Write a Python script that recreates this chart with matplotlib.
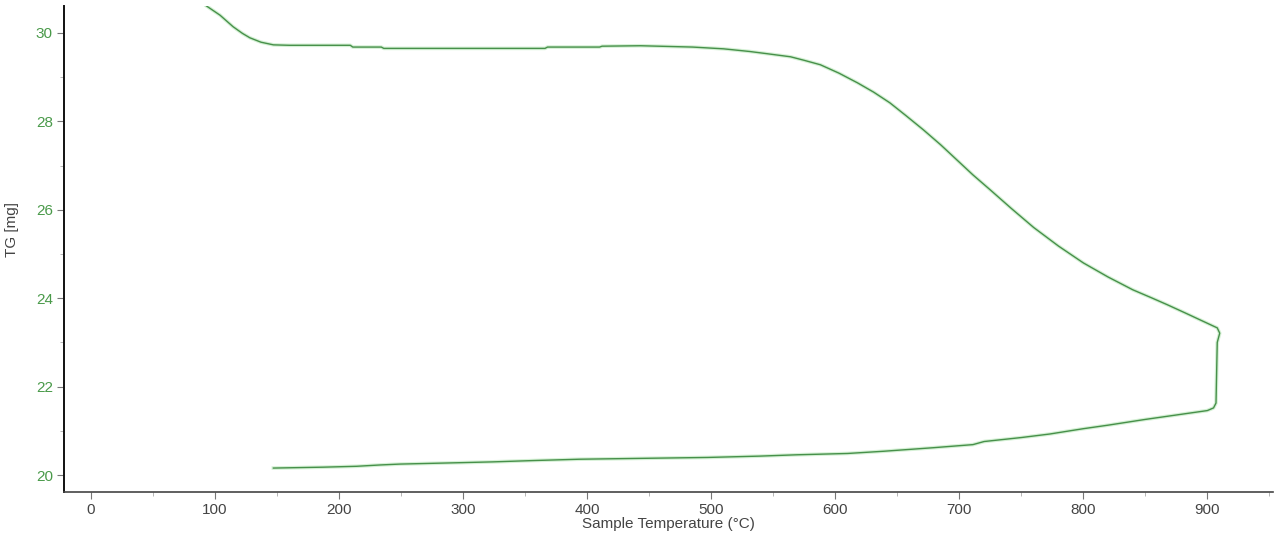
import numpy as np
import matplotlib.pyplot as plt
from matplotlib.ticker import MultipleLocator

# TG curve: heating branch, hold at ~908 °C, cooling branch
temp = [93, 104, 114.5, 122, 128, 137, 147, 160, 209, 211, 234, 236, 366, 368,
        410, 412, 443, 485, 510, 531, 545, 564, 575, 588, 603, 618, 631, 644,
        657, 671, 685, 698, 711, 725, 742, 760, 780, 800, 820, 840, 855, 868,
        882, 895, 908, 910, 908, 907, 905,
        900, 880, 850, 820, 800, 773, 750, 720, 711, 679, 639, 610, 569, 539,
        497, 394, 357, 324, 295, 249, 233, 214, 187, 147]
tg = [30.61, 30.40, 30.14, 29.99, 29.89, 29.79, 29.73, 29.72, 29.72, 29.68,
      29.68, 29.65, 29.65, 29.68, 29.68, 29.70, 29.71, 29.68, 29.64, 29.58,
      29.53, 29.46, 29.38, 29.28, 29.09, 28.87, 28.66, 28.42, 28.13, 27.81,
      27.47, 27.13, 26.79, 26.45, 26.03, 25.60, 25.18, 24.80, 24.48, 24.19,
      24.01, 23.85, 23.67, 23.50, 23.33, 23.21, 23.00, 21.63, 21.52,
      21.46, 21.38, 21.26, 21.13, 21.05, 20.93, 20.85, 20.76, 20.69, 20.62,
      20.54, 20.49, 20.46, 20.43, 20.40, 20.36, 20.33, 20.30, 20.28, 20.25,
      20.23, 20.20, 20.18, 20.16]

xticks = [0, 100, 200, 300, 400, 500, 600, 700, 800, 900]
yticks = [20, 22, 24, 26, 28, 30]

plt.rcParams['font.family'] = ['Liberation Sans', 'DejaVu Sans']

fig = plt.figure(figsize=(12.81, 5.40), dpi=100)
ax = fig.add_axes([0.05, 0.089, 0.9438, 0.9])

# faint halo under the line, then the line itself
ax.plot(temp, tg, color='#d4f0d4', lw=2.6, solid_joinstyle='round')
ax.plot(temp, tg, color='#47904a', lw=1.0, solid_joinstyle='round')

ax.set_xlim(-21.8, 953)
ax.set_ylim(19.62, 30.61)
ax.set_xticks(xticks)
ax.set_yticks(yticks)
ax.xaxis.set_minor_locator(MultipleLocator(50))
ax.yaxis.set_minor_locator(MultipleLocator(1))

ax.spines['top'].set_visible(False)
ax.spines['right'].set_visible(False)
ax.spines['left'].set_color('#111111')
ax.spines['left'].set_linewidth(1.4)
ax.spines['bottom'].set_color('#444444')
ax.spines['bottom'].set_linewidth(1.2)

ax.tick_params(axis='x', which='major', length=5, color='#777777',
               labelcolor='#444444', labelsize=11, pad=3)
ax.tick_params(axis='y', which='major', length=5, color='#777777',
               labelcolor='#4a9a4a', labelsize=11, pad=3)
ax.tick_params(which='minor', length=3, color='#aaaaaa')

ax.set_xlabel('Sample Temperature (°C)', color='#444444', fontsize=11, labelpad=0)
ax.set_ylabel('TG [mg]', color='#444444', fontsize=11, labelpad=8)
ax.yaxis.set_label_coords(-0.037, 0.54)

fig.savefig('out.png', dpi=100)
